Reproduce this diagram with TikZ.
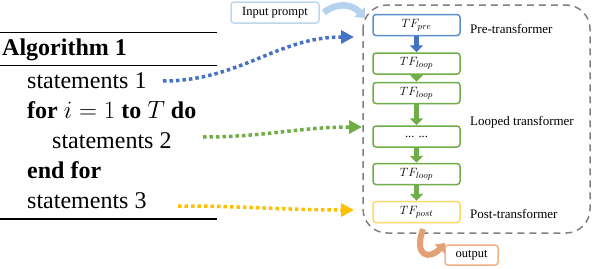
\documentclass[tikz,border=0pt]{standalone}
\usepackage{fontspec}
\setmainfont{Liberation Serif}
\usetikzlibrary{arrows.meta}
\definecolor{preblue}{HTML}{5B8FD0}
\definecolor{dotblue}{HTML}{4472C4}
\definecolor{loopgreen}{HTML}{70AD47}
\definecolor{postyellow}{HTML}{FFD966}
\definecolor{dotyellow}{HTML}{FFC000}
\definecolor{inblue}{HTML}{BDD7EE}
\definecolor{inarrow}{HTML}{B4D2EC}
\definecolor{outorange}{HTML}{F4B183}
\definecolor{outarrow}{HTML}{E3A072}
\definecolor{dashgrey}{HTML}{808080}
\begin{document}
\begin{tikzpicture}[x=1pt,y=-1pt,
  algtext/.style={inner sep=0pt,anchor=base west,font=\fontsize{24}{28}\selectfont},
  tfbox/.style={draw,rounded corners=3pt,line width=1.5pt,fill=white,minimum width=87pt,minimum height=21pt,inner sep=0pt,font=\fontsize{12.5}{14}\selectfont},
  sidelabel/.style={anchor=west,inner sep=0pt,font=\fontsize{13}{15}\selectfont},
  smallbox/.style={draw,rounded corners=3pt,line width=1.5pt,fill=white,inner sep=0pt,font=\fontsize{12.5}{15}\selectfont},
  blockarrow/.style={line width=5.5pt,-{Triangle[length=7pt,width=13pt]}},
  dotarrow/.style={line width=3.5pt,dash pattern=on 3.5pt off 3pt,-{Triangle[length=13pt,width=13pt]}}
]
\useasboundingbox (0,0) rectangle (592,268);

% algorithm
\draw[line width=1.5pt] (0,32.5) -- (217,32.5);
\draw[line width=1pt] (0,65.5) -- (217,65.5);
\draw[line width=1.5pt] (0,219) -- (217,219);
\node[algtext] (alg) at (2,55) {\textbf{Algorithm 1}};
\node[algtext] (s1) at (27,88) {statements 1};
\node[algtext] (for) at (27,118) {\textbf{for} $i=1$ \textbf{to} $T$ \textbf{do}};
\node[algtext] (s2) at (52,148) {statements 2};
\node[algtext] (endfor) at (27,178) {\textbf{end for}};
\node[algtext] (s3) at (27,208) {statements 3};

% dashed container
\draw[dashgrey,line width=1.5pt,dash pattern=on 7pt off 5pt,rounded corners=24pt] (363,5) rectangle (590,233);

% boxes
\node[tfbox,draw=preblue] (pre) at (416.5,25) {$TF_{pre}$};
\node[tfbox,draw=loopgreen] (l1) at (416.5,63.5) {$TF_{loop}$};
\node[tfbox,draw=loopgreen] (l2) at (416.5,93) {$TF_{loop}$};
\node[tfbox,draw=loopgreen] (l3) at (416.5,136.5) {... ...};
\node[tfbox,draw=loopgreen] (l4) at (416.5,174) {$TF_{loop}$};
\node[tfbox,draw=postyellow] (post) at (416.5,212) {$TF_{post}$};

\node[sidelabel] (lpre) at (470,29) {Pre-transformer};
\node[sidelabel] (lloop) at (470,122) {Looped transformer};
\node[sidelabel] (lpost) at (470,214) {Post-transformer};

\node[smallbox,draw=inblue,minimum width=88pt,minimum height=21pt] (in) at (275,12.5) {Input prompt};
\node[smallbox,draw=outorange,minimum width=53pt,minimum height=20pt] (out) at (471.5,255) {output};

% block arrows
\draw[blockarrow,dotblue] (pre.south) -- (l1.north);
\draw[blockarrow,loopgreen] (l1.south) -- (l2.north);
\draw[blockarrow,loopgreen] (l2.south) -- (l3.north);
\draw[blockarrow,loopgreen] (l3.south) -- (l4.north);
\draw[blockarrow,loopgreen] (l4.south) -- (post.north);

% input / output curved arrows
\coordinate (inend) at (365,18);
\draw[inarrow,line width=6.5pt,-{Triangle[length=8pt,width=14pt]}] ([xshift=4pt]in.east) .. controls (338,2) and (352,4) .. (inend);
\coordinate (outstart) at (423,229);
\coordinate (outend) at (445,243);
\draw[outarrow,line width=6pt,-{Triangle[length=8pt,width=13pt]}] (outstart) .. controls (413,257) and (430,260) .. (outend);

% dotted arrows
\coordinate (d1s) at (163,81);
\coordinate (d1e) at (354,37);
\coordinate (d2s) at (203,137);
\coordinate (d2e) at (362,127);
\coordinate (d3s) at (178,206);
\coordinate (d3e) at (354,210);
\draw[dotarrow,dotblue] (d1s) to[out=0,in=180] (d1e);
\draw[dotarrow,loopgreen] (d2s) to[out=0,in=180] (d2e);
\draw[dotarrow,dotyellow] (d3s) to[out=0,in=180] (d3e);
\end{tikzpicture}
\end{document}
